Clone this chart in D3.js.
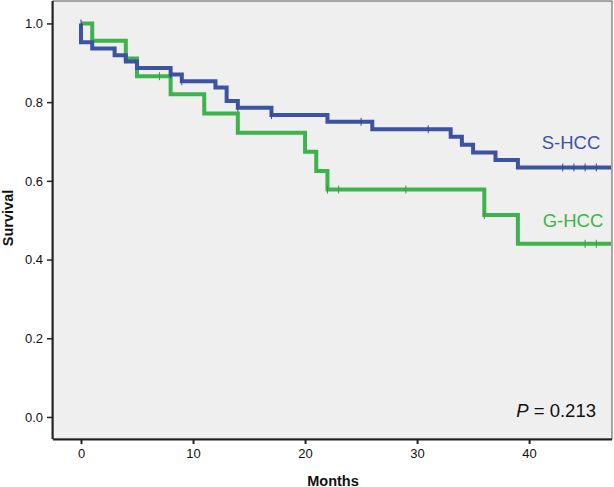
<!DOCTYPE html>
<html>
<head>
<meta charset="utf-8">
<script src="https://cdn.jsdelivr.net/npm/d3@7"></script>
<style>
  html, body { margin: 0; padding: 0; background: #ffffff; }
  svg { display: block; }
  text { font-family: "Liberation Sans", Arial, sans-serif; }
</style>
</head>
<body>
<svg id="chart" width="614" height="487"></svg>
<script>
// ---- Data ----
const xTicks = [0, 10, 20, 30, 40];
const yTicks = [0.0, 0.2, 0.4, 0.6, 0.8, 1.0];

// S-HCC (blue) Kaplan-Meier steps
const sTimes = [0, 0, 1, 3, 4, 5, 8, 9, 12, 13, 14, 17, 22, 26, 33, 34, 35, 37, 39];
const sSurv  = [1, 0.952, 0.936, 0.919, 0.903, 0.887, 0.870, 0.853, 0.837, 0.803, 0.786, 0.767, 0.750, 0.731, 0.712, 0.692, 0.672, 0.653, 0.634];
const sCensorTimes = [0, 8, 9, 14, 17, 25, 31, 43, 44, 45, 46];
const sCensorSurv  = [1, 0.870, 0.853, 0.786, 0.767, 0.750, 0.731, 0.634, 0.634, 0.634, 0.634];

// G-HCC (green) Kaplan-Meier steps
const gTimes = [0, 1, 4, 5, 8, 11, 14, 20, 21, 22, 36, 39];
const gSurv  = [1, 0.956, 0.911, 0.866, 0.820, 0.771, 0.722, 0.674, 0.625, 0.578, 0.513, 0.440];
const gCensorTimes = [7, 22, 23, 29, 36, 45, 46];
const gCensorSurv  = [0.866, 0.578, 0.578, 0.578, 0.513, 0.440, 0.440];

const seriesNames = ["S-HCC", "G-HCC"];
const pText = "0.213";
const xEnd = 47.4;

// ---- Layout ----
const svg = d3.select("#chart");
const plotL = 53, plotR = 612, plotT = 1, plotB = 439;

const x = d3.scaleLinear().domain([-2.5, xEnd]).range([plotL, plotR]);
const y = d3.scaleLinear().domain([-0.056, 1.057]).range([plotB, plotT]);

const blue = "#3c53a4";
const green = "#3cb44b";

// plot background + frame
svg.append("rect")
  .attr("x", plotL).attr("y", plotT)
  .attr("width", plotR - plotL).attr("height", plotB - plotT)
  .attr("fill", "#efefef")
  .attr("stroke", "#555").attr("stroke-width", 1);

// axes
const xAxis = d3.axisBottom(x).tickValues(xTicks).tickSize(5).tickPadding(5)
  .tickFormat(d3.format("d"));
const gx = svg.append("g").attr("transform", `translate(0,${plotB})`).call(xAxis);
gx.select(".domain").attr("stroke", "#222").attr("stroke-width", 2)
  .attr("d", `M${plotL},0.5H${plotR}`);
gx.selectAll(".tick line").attr("stroke", "#222").attr("stroke-width", 2);
gx.selectAll(".tick text").attr("fill", "#111").style("font-size", "13px")
  .style("font-family", "'Liberation Sans', Arial, sans-serif");

const yAxis = d3.axisLeft(y).tickValues(yTicks).tickSize(6).tickPadding(4)
  .tickFormat(d3.format(".1f"));
const gy = svg.append("g").attr("transform", `translate(${plotL},0)`).call(yAxis);
gy.select(".domain").attr("stroke", "#222").attr("stroke-width", 2)
  .attr("d", `M-0.5,${plotT}V${plotB}`);
gy.selectAll(".tick line").attr("stroke", "#222").attr("stroke-width", 1.5);
gy.selectAll(".tick text").attr("fill", "#111").style("font-size", "13px")
  .style("font-family", "'Liberation Sans', Arial, sans-serif");

// step lines
const line = d3.line().x(d => x(d[0])).y(d => y(d[1])).curve(d3.curveStepAfter);
function steps(times, surv) {
  const pts = times.map((t, i) => [t, surv[i]]);
  pts.push([xEnd, surv[surv.length - 1]]);
  return pts;
}
const clip = svg.append("clipPath").attr("id", "clip")
  .append("rect").attr("x", plotL).attr("y", plotT)
  .attr("width", plotR - plotL - 1).attr("height", plotB - plotT);

const lines = svg.append("g").attr("clip-path", "url(#clip)");
lines.append("path").datum(steps(gTimes, gSurv))
  .attr("d", line).attr("fill", "none").attr("stroke", green)
  .attr("stroke-width", 4).attr("stroke-linejoin", "miter");
lines.append("path").datum(steps(sTimes, sSurv))
  .attr("d", line).attr("fill", "none").attr("stroke", blue)
  .attr("stroke-width", 4).attr("stroke-linejoin", "miter");

// censor marks
function censors(times, surv, color) {
  lines.append("g").selectAll("line").data(times.map((t, i) => [t, surv[i]]))
    .join("line")
    .attr("x1", d => x(d[0])).attr("x2", d => x(d[0]))
    .attr("y1", d => y(d[1]) - 4).attr("y2", d => y(d[1]) + 4)
    .attr("stroke", d3.color(color).darker(0.4)).attr("stroke-width", 1);
}
censors(gCensorTimes, gCensorSurv, green);
censors(sCensorTimes, sCensorSurv, blue);

// series labels
svg.append("text").attr("x", 571).attr("y", 149)
  .attr("text-anchor", "middle").attr("fill", blue)
  .style("font-size", "18.5px").text(seriesNames[0]);
svg.append("text").attr("x", 573).attr("y", 227)
  .attr("text-anchor", "middle").attr("fill", green)
  .style("font-size", "18.5px").text(seriesNames[1]);

// P value
const pt = svg.append("text").attr("x", 596).attr("y", 417)
  .attr("text-anchor", "end").attr("fill", "#111").style("font-size", "18.5px");
pt.append("tspan").style("font-style", "italic").text("P");
pt.append("tspan").text(" = " + pText);

// axis titles
svg.append("text").attr("x", 333).attr("y", 485.5)
  .attr("text-anchor", "middle").attr("fill", "#111")
  .style("font-size", "14.5px").style("font-weight", "bold").text("Months");
svg.append("text")
  .attr("transform", "translate(12.5,218) rotate(-90)")
  .attr("text-anchor", "middle").attr("fill", "#111")
  .style("font-size", "14.5px").style("font-weight", "bold").text("Survival");
</script>
</body>
</html>
